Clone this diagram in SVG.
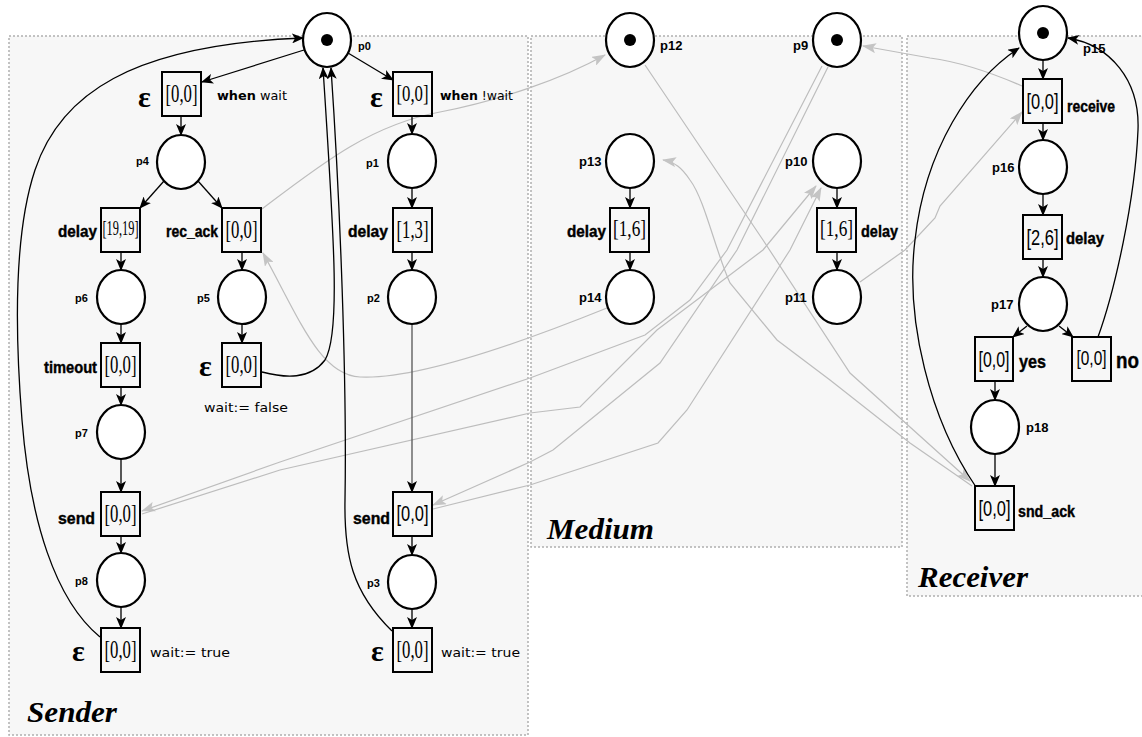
<svg xmlns="http://www.w3.org/2000/svg" width="1142" height="737" viewBox="0 0 1142 737">
<style>
.reg{fill:#f7f7f7;stroke:#b0b0b0;stroke-width:1.5;stroke-dasharray:2,2}
.pl{fill:#fff;stroke:#000;stroke-width:2.2}
.tr{fill:none;stroke:#000;stroke-width:2}
.tok{fill:#000}
.bx{font-family:"Liberation Serif",serif;font-size:26px;text-anchor:middle}
.bxs{font-family:"Liberation Sans",sans-serif;font-size:22px;text-anchor:middle}
.lb{font-family:"Liberation Sans",sans-serif;font-weight:bold;font-size:16px;stroke:#000;stroke-width:0.4}
.pn{font-family:"Liberation Sans",sans-serif;font-weight:bold;font-size:11px}
.pm{font-family:"Liberation Sans",sans-serif;font-weight:bold;font-size:13px}
.eps{font-family:"Liberation Serif",serif;font-weight:bold;font-size:30px}
.cm{font-family:"DejaVu Sans",sans-serif;font-size:13px}
.ttl{font-family:"Liberation Serif",serif;font-weight:bold;font-style:italic;font-size:29px}
.ab{fill:none;stroke:#000;stroke-width:1.3}
.ag{fill:none;stroke:#bdbdbd;stroke-width:1.2}
</style>
<defs>
<marker id="mb" markerWidth="12" markerHeight="10" refX="11" refY="5" orient="auto" markerUnits="userSpaceOnUse"><path d="M0,0 L12,5 L0,10 L3,5 z" fill="#000"/></marker>
<marker id="mg" markerWidth="14" markerHeight="10" refX="13" refY="5" orient="auto" markerUnits="userSpaceOnUse"><path d="M0,0 L14,5 L0,10 L3,5 z" fill="#c4c4c4"/></marker>
</defs>
<rect x="0" y="0" width="1142" height="737" fill="#fff"/>
<g id="regions">
<rect class="reg" x="9" y="36" width="519" height="699"/>
<rect class="reg" x="531" y="36" width="371" height="511"/>
<rect class="reg" x="907" y="36" width="240" height="560"/>
<text class="ttl" x="27" y="722" textLength="90" lengthAdjust="spacingAndGlyphs">Sender</text>
<text class="ttl" x="547" y="539" textLength="107" lengthAdjust="spacingAndGlyphs">Medium</text>
<text class="ttl" x="918" y="587" textLength="110" lengthAdjust="spacingAndGlyphs">Receiver</text>
</g>
<g id="connectors">
<g id="gray">
<path class="ag" marker-end="url(#mg)" d="M262,209 C320,165 370,125 440,112 C500,100 560,80 605,55"/>
<path class="ag" marker-end="url(#mg)" d="M607,308 C540,335 420,380 360,377 C320,375 300,320 263,253"/>
<path class="ag" marker-end="url(#mg)" d="M822,66 L727,250 L690,300 L645,335 L530,378 L280,462 L142,511"/>
<path class="ag" marker-end="url(#mg)" d="M142,514 L280,470 L530,413 L580,407 L657,330 L763,250 L816,186"/>
<path class="ag" marker-end="url(#mg)" d="M828,67 L737,250 L660,363 L553,450 L530,462 L433,505"/>
<path class="ag" marker-end="url(#mg)" d="M433,509 L530,485 L658,443 L687,410 L790,250 L821,188"/>
<path class="ag" marker-end="url(#mg)" d="M860,282 L905,250 L935,218 L940,206 L1022,112"/>
<path class="ag" marker-end="url(#mg)" d="M1022,86 C990,72 960,62 930,58 L863,46"/>
<path class="ag" marker-end="url(#mg)" d="M645,65 L763,240 L850,373 L970,481"/>
<path class="ag" marker-end="url(#mg)" d="M972,486 L910,443 L830,380 L777,340 L730,283 C715,250 705,200 690,180 C682,168 675,162 663,160"/>
</g>
<g id="black">
<path class="ab" marker-end="url(#mb)" d="M304,50 L202,82"/>
<path class="ab" marker-end="url(#mb)" d="M181,116 L181,135"/>
<path class="ab" marker-end="url(#mb)" d="M164,181 L140,208"/>
<path class="ab" marker-end="url(#mb)" d="M198,181 L222,208"/>
<path class="ab" marker-end="url(#mb)" d="M121,252 L121,270"/>
<path class="ab" marker-end="url(#mb)" d="M242,252 L242,270"/>
<path class="ab" marker-end="url(#mb)" d="M121,324 L121,343"/>
<path class="ab" marker-end="url(#mb)" d="M242,324 L242,343"/>
<path class="ab" marker-end="url(#mb)" d="M121,388 L121,405"/>
<path class="ab" marker-end="url(#mb)" d="M121,459 L121,492"/>
<path class="ab" marker-end="url(#mb)" d="M121,537 L121,553"/>
<path class="ab" marker-end="url(#mb)" d="M121,607 L121,628"/>
<path class="ab" marker-end="url(#mb)" d="M348,53 L393,80"/>
<path class="ab" marker-end="url(#mb)" d="M412,116 L412,134"/>
<path class="ab" marker-end="url(#mb)" d="M412,188 L412,208"/>
<path class="ab" marker-end="url(#mb)" d="M412,252 L412,270"/>
<path class="ab" marker-end="url(#mb)" style="stroke:#555" d="M412,324 L412,492"/>
<path class="ab" marker-end="url(#mb)" d="M412,537 L412,555"/>
<path class="ab" marker-end="url(#mb)" d="M412,609 L412,628"/>
<path class="ab" marker-end="url(#mb)" d="M100,637 C55,600 30,520 22,420 C14,320 15,230 35,170 C60,95 130,45 303,38"/>
<path class="ab" marker-end="url(#mb)" d="M262,372 C285,378 310,380 325,360 C340,335 335,250 323,68"/>
<path class="ab" marker-end="url(#mb)" d="M392,631 C352,592 344,555 345,500 C347,380 340,200 331,68"/>
<path class="ab" marker-end="url(#mb)" d="M630,188 L630,208"/>
<path class="ab" marker-end="url(#mb)" d="M630,252 L630,270"/>
<path class="ab" marker-end="url(#mb)" d="M837,188 L837,208"/>
<path class="ab" marker-end="url(#mb)" d="M837,252 L837,270"/>
<path class="ab" marker-end="url(#mb)" d="M1043,60 L1043,79"/>
<path class="ab" marker-end="url(#mb)" d="M1043,123 L1043,140"/>
<path class="ab" marker-end="url(#mb)" d="M1043,194 L1043,215"/>
<path class="ab" marker-end="url(#mb)" d="M1043,258 L1043,277"/>
<path class="ab" marker-end="url(#mb)" d="M1027,326 L1013,337"/>
<path class="ab" marker-end="url(#mb)" d="M1059,326 L1073,337"/>
<path class="ab" marker-end="url(#mb)" d="M995,381 L995,400"/>
<path class="ab" marker-end="url(#mb)" d="M995,454 L995,486"/>
<path class="ab" marker-end="url(#mb)" d="M1098,337 C1115,290 1135,200 1138,130 C1140,80 1110,45 1068,38"/>
<path class="ab" marker-end="url(#mb)" d="M976,487 C930,420 905,320 915,240 C925,150 970,80 1019,48"/>
</g>
</g>
<g id="p0"><ellipse class="pl" cx="327" cy="40" rx="24" ry="27"/><circle class="tok" cx="327" cy="40" r="6"/><text class="pn" x="358" y="50">p0</text></g>
<g id="p4"><ellipse class="pl" cx="181" cy="162" rx="24" ry="27"/><text class="pn" x="136" y="165">p4</text></g>
<g id="p1"><ellipse class="pl" cx="412" cy="161" rx="24" ry="27"/><text class="pn" x="366" y="167">p1</text></g>
<g id="p6"><ellipse class="pl" cx="121" cy="297" rx="24" ry="27"/><text class="pn" x="75" y="302">p6</text></g>
<g id="p5"><ellipse class="pl" cx="242" cy="297" rx="24" ry="27"/><text class="pn" x="197" y="302">p5</text></g>
<g id="p2"><ellipse class="pl" cx="412" cy="297" rx="24" ry="27"/><text class="pn" x="367" y="302">p2</text></g>
<g id="p7"><ellipse class="pl" cx="121" cy="432" rx="24" ry="27"/><text class="pn" x="75" y="437">p7</text></g>
<g id="p8"><ellipse class="pl" cx="121" cy="580" rx="24" ry="27"/><text class="pn" x="75" y="585">p8</text></g>
<g id="p3"><ellipse class="pl" cx="412" cy="582" rx="24" ry="27"/><text class="pn" x="367" y="587">p3</text></g>
<g id="p12"><ellipse class="pl" cx="630" cy="40" rx="24" ry="27"/><circle class="tok" cx="630" cy="40" r="6"/><text class="pm" x="660" y="50">p12</text></g>
<g id="p9"><ellipse class="pl" cx="837" cy="40" rx="24" ry="27"/><circle class="tok" cx="837" cy="40" r="6"/><text class="pm" x="793" y="50">p9</text></g>
<g id="p13"><ellipse class="pl" cx="630" cy="161" rx="24" ry="27"/><text class="pm" x="579" y="166">p13</text></g>
<g id="p10"><ellipse class="pl" cx="837" cy="161" rx="24" ry="27"/><text class="pm" x="785" y="166">p10</text></g>
<g id="p14"><ellipse class="pl" cx="630" cy="297" rx="24" ry="27"/><text class="pm" x="579" y="302">p14</text></g>
<g id="p11"><ellipse class="pl" cx="837" cy="297" rx="24" ry="27"/><text class="pm" x="785" y="302">p11</text></g>
<g id="p15"><ellipse class="pl" cx="1043" cy="33" rx="24" ry="27"/><circle class="tok" cx="1043" cy="33" r="6"/><text class="pm" x="1083" y="53">p15</text></g>
<g id="p16"><ellipse class="pl" cx="1043" cy="167" rx="24" ry="27"/><text class="pm" x="992" y="172">p16</text></g>
<g id="p17"><ellipse class="pl" cx="1043" cy="304" rx="24" ry="27"/><text class="pm" x="991" y="309">p17</text></g>
<g id="p18"><ellipse class="pl" cx="995" cy="427" rx="24" ry="27"/><text class="pm" x="1026" y="432">p18</text></g>
<g id="t_eps1"><rect class="tr" x="162" y="72" width="39" height="44"/><text class="bx" x="181.5" y="102" textLength="32" lengthAdjust="spacingAndGlyphs">[0,0]</text><text class="eps" x="138" y="107">ε</text><text class="cm" x="217" y="100" textLength="70" lengthAdjust="spacingAndGlyphs"><tspan font-weight="bold">when</tspan> wait</text></g>
<g id="t_eps2"><rect class="tr" x="393" y="72" width="39" height="44"/><text class="bx" x="412.5" y="101" style="font-size:24px" textLength="32" lengthAdjust="spacingAndGlyphs">[0,0]</text><text class="eps" x="370" y="107">ε</text><text class="cm" x="440" y="100" textLength="73" lengthAdjust="spacingAndGlyphs"><tspan font-weight="bold">when</tspan> !wait</text></g>
<g id="t_delay1"><rect class="tr" x="101" y="208" width="39" height="44"/><text class="bx" x="120.5" y="235" style="font-size:22px" textLength="36" lengthAdjust="spacingAndGlyphs">[19,19]</text><text class="lb" x="58" y="237" textLength="39" lengthAdjust="spacingAndGlyphs">delay</text></g>
<g id="t_rec_ack"><rect class="tr" x="222" y="208" width="39" height="44"/><text class="bx" x="241.5" y="238" textLength="32" lengthAdjust="spacingAndGlyphs">[0,0]</text><text class="lb" x="166" y="237" textLength="52" lengthAdjust="spacingAndGlyphs">rec_ack</text></g>
<g id="t_delay2"><rect class="tr" x="393" y="208" width="39" height="44"/><text class="bx" x="412.5" y="238" textLength="32" lengthAdjust="spacingAndGlyphs">[1,3]</text><text class="lb" x="348" y="237" textLength="40" lengthAdjust="spacingAndGlyphs">delay</text></g>
<g id="t_timeout"><rect class="tr" x="101" y="343" width="39" height="44"/><text class="bx" x="120.5" y="373" textLength="32" lengthAdjust="spacingAndGlyphs">[0,0]</text><text class="lb" x="44" y="373" textLength="53" lengthAdjust="spacingAndGlyphs">timeout</text></g>
<g id="t_eps3"><rect class="tr" x="222" y="343" width="39" height="44"/><text class="bx" x="241.5" y="373" textLength="32" lengthAdjust="spacingAndGlyphs">[0,0]</text><text class="eps" x="199" y="376">ε</text><text class="cm" x="204" y="412" textLength="84" lengthAdjust="spacingAndGlyphs">wait:= false</text></g>
<g id="t_sendL"><rect class="tr" x="101" y="492" width="39" height="44"/><text class="bx" x="120.5" y="522" textLength="32" lengthAdjust="spacingAndGlyphs">[0,0]</text><text class="lb" x="58" y="524" textLength="37" lengthAdjust="spacingAndGlyphs">send</text></g>
<g id="t_sendR"><rect class="tr" x="393" y="492" width="39" height="44"/><text class="bxs" x="412.5" y="521" textLength="32" lengthAdjust="spacingAndGlyphs">[0,0]</text><text class="lb" x="353" y="524" textLength="37" lengthAdjust="spacingAndGlyphs">send</text></g>
<g id="t_eps4"><rect class="tr" x="101" y="628" width="39" height="44"/><text class="bx" x="120.5" y="658" textLength="32" lengthAdjust="spacingAndGlyphs">[0,0]</text><text class="eps" x="72" y="661">ε</text><text class="cm" x="150" y="657" textLength="80" lengthAdjust="spacingAndGlyphs">wait:= true</text></g>
<g id="t_eps5"><rect class="tr" x="393" y="628" width="39" height="44"/><text class="bx" x="412.5" y="658" textLength="32" lengthAdjust="spacingAndGlyphs">[0,0]</text><text class="eps" x="371" y="661">ε</text><text class="cm" x="441" y="657" textLength="79" lengthAdjust="spacingAndGlyphs">wait:= true</text></g>
<g id="t_delayM1"><rect class="tr" x="610" y="208" width="39" height="44"/><text class="bx" x="629.5" y="236" style="font-size:23px" textLength="33" lengthAdjust="spacingAndGlyphs">[1,6]</text><text class="lb" x="567" y="237" textLength="39" lengthAdjust="spacingAndGlyphs">delay</text></g>
<g id="t_delayM2"><rect class="tr" x="817" y="208" width="39" height="44"/><text class="bx" x="836.5" y="236" style="font-size:23px" textLength="33" lengthAdjust="spacingAndGlyphs">[1,6]</text><text class="lb" x="861" y="237" textLength="37" lengthAdjust="spacingAndGlyphs">delay</text></g>
<g id="t_receive"><rect class="tr" x="1023" y="79" width="39" height="44"/><text class="bxs" x="1042.5" y="109" textLength="32" lengthAdjust="spacingAndGlyphs">[0,0]</text><text class="lb" x="1067" y="112" textLength="48" lengthAdjust="spacingAndGlyphs">receive</text></g>
<g id="t_delayR"><rect class="tr" x="1023" y="215" width="39" height="44"/><text class="bxs" x="1042.5" y="245" textLength="32" lengthAdjust="spacingAndGlyphs">[2,6]</text><text class="lb" x="1066" y="244" textLength="38" lengthAdjust="spacingAndGlyphs">delay</text></g>
<g id="t_yes"><rect class="tr" x="975" y="337" width="38" height="44"/><text class="bxs" x="994" y="367" textLength="31" lengthAdjust="spacingAndGlyphs">[0,0]</text><text class="lb" x="1019" y="368" style="font-size:19px" textLength="27" lengthAdjust="spacingAndGlyphs">yes</text></g>
<g id="t_no"><rect class="tr" x="1072" y="337" width="39" height="44"/><text class="bxs" x="1091.5" y="365" style="font-size:20px" textLength="30" lengthAdjust="spacingAndGlyphs">[0,0]</text><text class="lb" x="1116" y="368" style="font-size:22px" textLength="23" lengthAdjust="spacingAndGlyphs">no</text></g>
<g id="t_snd_ack"><rect class="tr" x="975" y="486" width="39" height="44"/><text class="bxs" x="994.5" y="516" textLength="32" lengthAdjust="spacingAndGlyphs">[0,0]</text><text class="lb" x="1018" y="517" textLength="57" lengthAdjust="spacingAndGlyphs">snd_ack</text></g>
</svg>
